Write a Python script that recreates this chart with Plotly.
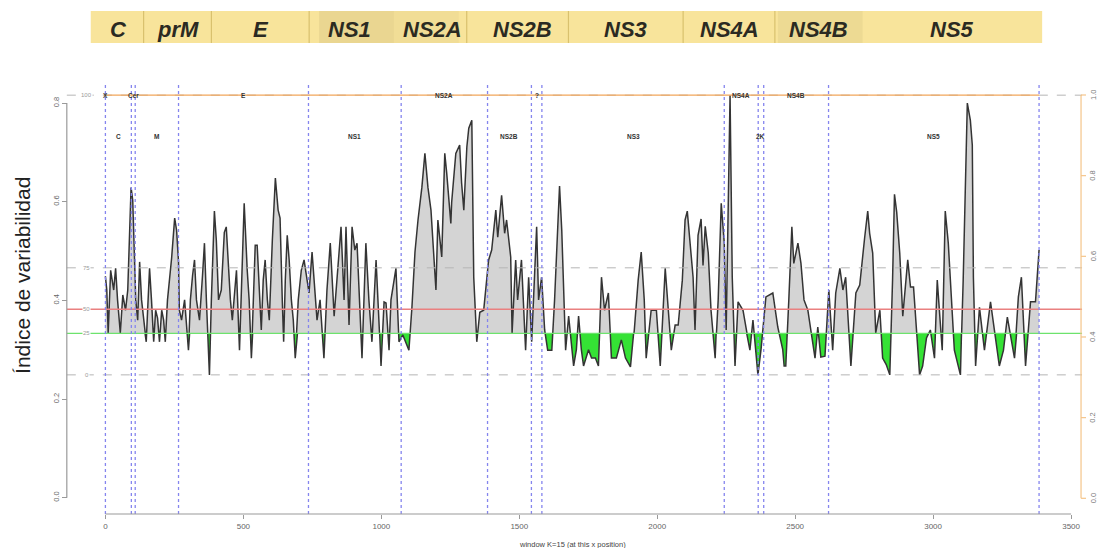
import plotly.graph_objects as go

# ---------------------------------------------------------------------------
# Variability index along the dengue polyprotein (sliding window K=15)
# ---------------------------------------------------------------------------
pos = [0, 5, 10, 19, 30, 37, 44, 54, 63, 73, 81, 88, 93, 99, 104, 110, 117, 124, 131, 142,
       148, 153, 160, 167, 175, 182, 189, 196, 204, 211, 217, 225, 240, 251, 258, 265, 268, 276, 287, 301,
       308, 316, 323, 330, 341, 352, 359, 366, 377, 384, 391, 395, 402, 410, 420, 431, 438, 446, 453, 460,
       467, 475, 486, 493, 503, 514, 521, 529, 536, 543, 550, 558, 565, 572, 579, 587, 594, 605, 616, 626,
       633, 641, 646, 652, 659, 666, 674, 681, 688, 699, 710, 720, 731, 738, 749, 760, 767, 778, 792, 803,
       815, 829, 840, 854, 865, 872, 883, 894, 904, 912, 930, 944, 955, 966, 981, 992, 999, 1010, 1017, 1028,
       1035, 1053, 1064, 1078, 1089, 1100, 1111, 1122, 1133, 1147, 1158, 1169, 1180, 1190, 1198, 1205, 1219, 1230, 1237, 1252,
       1255, 1270, 1284, 1291, 1299, 1310, 1317, 1328, 1335, 1346, 1357, 1371, 1389, 1400, 1415, 1422, 1436, 1447, 1454, 1469,
       1474, 1487, 1494, 1508, 1523, 1534, 1545, 1563, 1570, 1581, 1592, 1603, 1618, 1628, 1639, 1646, 1654, 1668, 1679, 1697,
       1707, 1715, 1725, 1733, 1751, 1762, 1776, 1787, 1798, 1809, 1823, 1834, 1852, 1870, 1885, 1903, 1917, 1931, 1942, 1953,
       1960, 1978, 1997, 2011, 2029, 2040, 2051, 2065, 2076, 2091, 2101, 2109, 2116, 2130, 2137, 2148, 2159, 2166, 2174, 2185,
       2195, 2210, 2221, 2232, 2243, 2250, 2264, 2272, 2282, 2293, 2311, 2322, 2336, 2347, 2365, 2376, 2394, 2419, 2437, 2455,
       2460, 2466, 2477, 2488, 2495, 2510, 2521, 2532, 2546, 2572, 2582, 2593, 2608, 2622, 2636, 2647, 2662, 2673, 2683, 2702, 2720,
       2734, 2752, 2763, 2770, 2781, 2792, 2807, 2817, 2830, 2843, 2853, 2860, 2868, 2879, 2890, 2900, 2908, 2918, 2929, 2951, 2962,
       2976, 2990, 3005, 3015, 3033, 3044, 3055, 3062, 3077, 3099, 3109, 3124, 3135, 3142, 3146, 3154, 3168, 3186, 3208, 3240,
       3255, 3269, 3295, 3309, 3320, 3335, 3353, 3371, 3384]

idx = [0.449, 0.421, 0.334, 0.461, 0.421, 0.465, 0.401, 0.334, 0.411, 0.380, 0.421, 0.522, 0.629, 0.603, 0.482, 0.401, 0.360, 0.478, 0.401, 0.340,
       0.316, 0.380, 0.465, 0.401, 0.316, 0.380, 0.364, 0.316, 0.380, 0.360, 0.316, 0.401, 0.486, 0.567, 0.542, 0.478, 0.380, 0.360, 0.401, 0.299,
       0.401, 0.451, 0.482, 0.401, 0.360, 0.451, 0.516, 0.401, 0.249, 0.401, 0.542, 0.581, 0.522, 0.401, 0.421, 0.538, 0.549, 0.471, 0.401, 0.360,
       0.401, 0.461, 0.299, 0.441, 0.597, 0.461, 0.401, 0.283, 0.401, 0.512, 0.512, 0.401, 0.340, 0.441, 0.482, 0.401, 0.360, 0.522, 0.648, 0.583,
       0.567, 0.401, 0.316, 0.441, 0.532, 0.482, 0.401, 0.360, 0.283, 0.401, 0.461, 0.482, 0.441, 0.415, 0.498, 0.401, 0.360, 0.401, 0.283, 0.421,
       0.516, 0.368, 0.441, 0.549, 0.401, 0.549, 0.350, 0.549, 0.502, 0.516, 0.283, 0.516, 0.401, 0.316, 0.482, 0.360, 0.267, 0.397, 0.395, 0.299,
       0.401, 0.465, 0.316, 0.330, 0.316, 0.299, 0.386, 0.498, 0.563, 0.629, 0.698, 0.629, 0.583, 0.482, 0.421, 0.563, 0.488, 0.698, 0.658, 0.556,
       0.599, 0.698, 0.715, 0.638, 0.583, 0.711, 0.749, 0.765, 0.447, 0.316, 0.376, 0.380, 0.482, 0.502, 0.583, 0.528, 0.613, 0.536, 0.563, 0.488,
       0.334, 0.482, 0.401, 0.482, 0.299, 0.447, 0.316, 0.549, 0.401, 0.447, 0.340, 0.299, 0.299, 0.401, 0.542, 0.632, 0.542, 0.299, 0.368, 0.267,
       0.300, 0.368, 0.300, 0.267, 0.300, 0.283, 0.283, 0.267, 0.447, 0.380, 0.415, 0.283, 0.283, 0.320, 0.283, 0.265, 0.340, 0.441, 0.498, 0.401,
       0.283, 0.380, 0.380, 0.267, 0.465, 0.380, 0.299, 0.350, 0.350, 0.441, 0.563, 0.581, 0.532, 0.447, 0.340, 0.532, 0.565, 0.471, 0.550, 0.496,
       0.380, 0.283, 0.401, 0.597, 0.516, 0.340, 0.816, 0.447, 0.267, 0.397, 0.380, 0.340, 0.299, 0.360, 0.249, 0.299, 0.407, 0.415, 0.346, 0.300,
       0.267, 0.267, 0.401, 0.549, 0.475, 0.516, 0.475, 0.401, 0.380, 0.283, 0.346, 0.285, 0.287, 0.421, 0.299, 0.415, 0.465, 0.421, 0.447, 0.267, 0.415,
       0.431, 0.528, 0.581, 0.536, 0.496, 0.334, 0.380, 0.283, 0.270, 0.249, 0.441, 0.615, 0.579, 0.496, 0.368, 0.427, 0.482, 0.427, 0.427, 0.249, 0.267,
       0.324, 0.340, 0.283, 0.441, 0.299, 0.581, 0.516, 0.441, 0.299, 0.249, 0.441, 0.800, 0.765, 0.715, 0.447, 0.267, 0.386, 0.299, 0.397, 0.267,
       0.299, 0.366, 0.283, 0.407, 0.447, 0.267, 0.397, 0.397, 0.502]

# Percentile levels of the index
pct_labels = ["0", "25", "50", "75", "100"]
pct_values = [0.249, 0.333, 0.382, 0.466, 0.816]

# Protein boundaries (aa) and the name of each segment between them
bounds = [0, 94, 108, 265, 736, 1072, 1385, 1544, 1582, 2243, 2366, 2386, 2621, 3384]
segment_names = ["C", "Cer", "M", "E", "NS1", "NS2A", "NS2B", "?", "NS3",
                 "NS4A", "2K", "NS4B", "NS5"]
start_label = "X"

# Genome map shown above the plot
map_names = ["C", "prM", "E", "NS1", "NS2A", "NS2B", "NS3", "NS4A", "NS4B", "NS5"]

x_ticks = [0, 500, 1000, 1500, 2000, 2500, 3000, 3500]
y_ticks = [0.0, 0.2, 0.4, 0.6, 0.8]
y2_ticks = [0.0, 0.2, 0.4, 0.6, 0.8, 1.0]

# ---------------------------------------------------------------------------
# Page geometry (pixels) and axis calibration
# ---------------------------------------------------------------------------
W, H = 1099, 548


def px(x):
    return x / W


def py(y):
    return 1 - y / H


PLOT_TOP, PLOT_BOTTOM = 78, 514          # plotting region, px
X_LEFT, X_RIGHT = 100, 1080
X0_PX, X_SCALE = 105.7, (1074 - 105.7) / 3500   # px at 0 and px per aa
Y0_PX, Y_SCALE = 497.7, 493.3                   # px at 0 and px per unit
R0_PX, R_SCALE = 498.3, 403.3                   # right axis
RIGHT_AXIS_PX = 1084

x_range = [(X_LEFT - X0_PX) / X_SCALE, (X_RIGHT - X0_PX) / X_SCALE]
y_range = [(Y0_PX - PLOT_BOTTOM) / Y_SCALE, (Y0_PX - PLOT_TOP) / Y_SCALE]
r_range = [(R0_PX - PLOT_BOTTOM) / R_SCALE, (R0_PX - PLOT_TOP) / R_SCALE]

dom_lo, dom_hi = py(PLOT_BOTTOM), py(PLOT_TOP)
q1 = pct_values[1]
split = dom_lo + (q1 - y_range[0]) / (y_range[1] - y_range[0]) * (dom_hi - dom_lo)

CURVE = dict(color="#343434", width=1.5)
fig = go.Figure()

# Upper half: grey area between the curve and the 25 % level
fig.add_trace(go.Scatter(x=[pos[0], pos[-1]], y=[q1, q1], mode="lines",
                         line=dict(width=0, color="rgba(0,0,0,0)"),
                         yaxis="y3", hoverinfo="skip", showlegend=False))
fig.add_trace(go.Scatter(x=pos, y=idx, mode="lines", line=CURVE, fill="tonexty",
                         fillcolor="#d4d4d4", yaxis="y3", showlegend=False))
# Lower half: green area below the 25 % level
fig.add_trace(go.Scatter(x=[pos[0], pos[-1]], y=[q1, q1], mode="lines",
                         line=dict(width=0, color="rgba(0,0,0,0)"),
                         yaxis="y4", hoverinfo="skip", showlegend=False))
fig.add_trace(go.Scatter(x=pos, y=idx, mode="lines", line=CURVE, fill="tonexty",
                         fillcolor="#35e235", yaxis="y4", showlegend=False))
fig.add_trace(go.Scatter(x=[], y=[], yaxis="y2", showlegend=False))

shapes = []
# percentile lines
pct_style = {
    "0": dict(color="#b5b5b5", width=1, dash="dash"),
    "25": dict(color="#6de36d", width=1.3),
    "50": dict(color="#ea8080", width=1.3),
    "75": dict(color="#b5b5b5", width=1, dash="dash"),
    "100": dict(color="#b5b5b5", width=1, dash="dash"),
}
for lab, val in zip(pct_labels, pct_values):
    shapes.append(dict(type="line", xref="paper", yref="y", x0=px(67), x1=px(1085),
                       y0=val, y1=val, line=pct_style[lab], layer="above"))
shapes.append(dict(type="line", xref="x", yref="y", x0=pos[0], x1=pos[-1],
                   y0=pct_values[-1], y1=pct_values[-1],
                   line=dict(color="#f2a65a", width=1.3), layer="above"))
# protein boundaries
for b in bounds:
    shapes.append(dict(type="line", xref="x", yref="paper", x0=b, x1=b,
                       y0=py(PLOT_BOTTOM), y1=py(82),
                       line=dict(color="#8585ee", width=1.3, dash="dot"), layer="above"))
# R-style axis lines
shapes.append(dict(type="line", xref="x", yref="paper", x0=x_ticks[0], x1=x_ticks[-1],
                   y0=py(PLOT_BOTTOM), y1=py(PLOT_BOTTOM), line=dict(color="#9a9a9a", width=1.2)))
shapes.append(dict(type="line", xref="paper", yref="y", x0=px(67), x1=px(67),
                   y0=y_ticks[0], y1=y_ticks[-1], line=dict(color="#9a9a9a", width=1.2)))
shapes.append(dict(type="line", xref="paper", yref="y2", x0=px(RIGHT_AXIS_PX), x1=px(RIGHT_AXIS_PX),
                   y0=y2_ticks[0], y1=y2_ticks[-1], line=dict(color="#f5c58a", width=1.2)))
for t in y2_ticks:
    shapes.append(dict(type="line", xref="paper", yref="y2", x0=px(RIGHT_AXIS_PX),
                       x1=px(RIGHT_AXIS_PX + 5), y0=t, y1=t,
                       line=dict(color="#f5c58a", width=1.2)))

# genome map banner
MAP_L, MAP_R, MAP_T, MAP_B = 91, 1045, 11, 43
shapes.append(dict(type="rect", xref="paper", yref="paper", x0=px(MAP_L), x1=px(MAP_R),
                   y0=py(MAP_B), y1=py(MAP_T), fillcolor="#f8e49b", line=dict(width=0),
                   layer="below"))
for x0, x1, col in [(320, 395, "rgba(120,100,60,0.10)"), (395, 460, "rgba(120,100,60,0.05)"),
                    (780, 865, "rgba(120,100,60,0.08)")]:
    shapes.append(dict(type="rect", xref="paper", yref="paper", x0=px(x0), x1=px(x1),
                       y0=py(MAP_B), y1=py(MAP_T), fillcolor=col, line=dict(width=0),
                       layer="below"))
for xd in [144, 212, 310, 468, 570, 685, 777]:
    shapes.append(dict(type="line", xref="paper", yref="paper", x0=px(xd), x1=px(xd),
                       y0=py(MAP_B), y1=py(MAP_T), line=dict(color="#d9c16e", width=1.2),
                       layer="below"))

annotations = []
map_centers = [119, 178, 262, 350, 434, 524, 627, 731, 821, 955]
for name, cx in zip(map_names, map_centers):
    annotations.append(dict(xref="paper", yref="paper", x=px(cx), y=py(29), text=f"<b><i>{name}</i></b>",
                            xanchor="center", yanchor="middle", showarrow=False,
                            font=dict(family="Liberation Sans", size=22, color="#2b2a22")))

# segment names: alternating rows
ROW1, ROW2 = pct_values[-1], 0.733
annotations.append(dict(xref="x", yref="y", x=bounds[0], y=ROW1, text=f"<b>{start_label}</b>",
                        xanchor="center", yanchor="middle", showarrow=False,
                        font=dict(family="Liberation Sans", size=6.5, color="#333")))
for i, name in enumerate(segment_names):
    mid = (bounds[i] + bounds[i + 1]) / 2
    annotations.append(dict(xref="x", yref="y", x=mid, y=ROW2 if i % 2 == 0 else ROW1,
                            text=f"<b>{name}</b>", xanchor="center", yanchor="middle",
                            showarrow=False,
                            font=dict(family="Liberation Sans", size=6.5, color="#333")))

# percentile tags on the left
for lab, val in zip(pct_labels, pct_values):
    annotations.append(dict(xref="paper", yref="y", x=px(87), y=val, text=lab, showarrow=False,
                            xanchor="center", yanchor="middle", bgcolor="white", borderpad=0,
                            font=dict(family="Liberation Sans", size=6, color="#9a9a9a")))

# right-hand axis labels
for t in y2_ticks:
    annotations.append(dict(xref="paper", yref="y2", x=px(RIGHT_AXIS_PX + 12), y=t,
                            text=f"{t:.1f}", textangle=-90, showarrow=False,
                            xanchor="center", yanchor="middle",
                            font=dict(family="Liberation Sans", size=7.5, color="#777")))

annotations.append(dict(xref="paper", yref="paper", x=px(22), y=py(275), text="Índice de variabilidad",
                        textangle=-90, xanchor="center", yanchor="middle", showarrow=False,
                        font=dict(family="Liberation Sans", size=21, color="#222")))
annotations.append(dict(xref="x", yref="paper", x=(pos[0] + pos[-1]) / 2, y=py(544),
                        text="window K=15 (at this x position)", showarrow=False,
                        xanchor="center", yanchor="middle",
                        font=dict(family="Liberation Sans", size=7.5, color="#444")))

tickfont = dict(family="Liberation Sans", size=8, color="#666")
fig.update_layout(
    width=W, height=H, margin=dict(l=0, r=0, t=0, b=0),
    paper_bgcolor="white", plot_bgcolor="rgba(0,0,0,0)",
    showlegend=False,
    xaxis=dict(domain=[px(X_LEFT), px(X_RIGHT)], range=x_range, tickvals=x_ticks,
               ticktext=[str(t) for t in x_ticks], ticks="outside", ticklen=4,
               tickcolor="#9a9a9a", tickfont=tickfont, showgrid=False, zeroline=False,
               showline=False, anchor="y"),
    yaxis=dict(domain=[dom_lo, dom_hi], range=y_range, tickvals=y_ticks,
               ticktext=[f"{t:.1f}" for t in y_ticks], ticks="outside", ticklen=5,
               tickcolor="#9a9a9a", tickangle=-90, tickfont=dict(tickfont, size=7.5),
               showgrid=False, zeroline=False, showline=False, anchor="free", position=px(67)),
    yaxis2=dict(overlaying="y", side="right", range=r_range, visible=False,
                anchor="free", position=px(RIGHT_AXIS_PX)),
    yaxis3=dict(domain=[split, dom_hi], range=[q1, y_range[1]], visible=False,
                anchor="x", fixedrange=True),
    yaxis4=dict(domain=[dom_lo, split], range=[y_range[0], q1], visible=False,
                anchor="x", fixedrange=True),
    shapes=shapes,
    annotations=annotations,
)

fig.write_html("out.html")
